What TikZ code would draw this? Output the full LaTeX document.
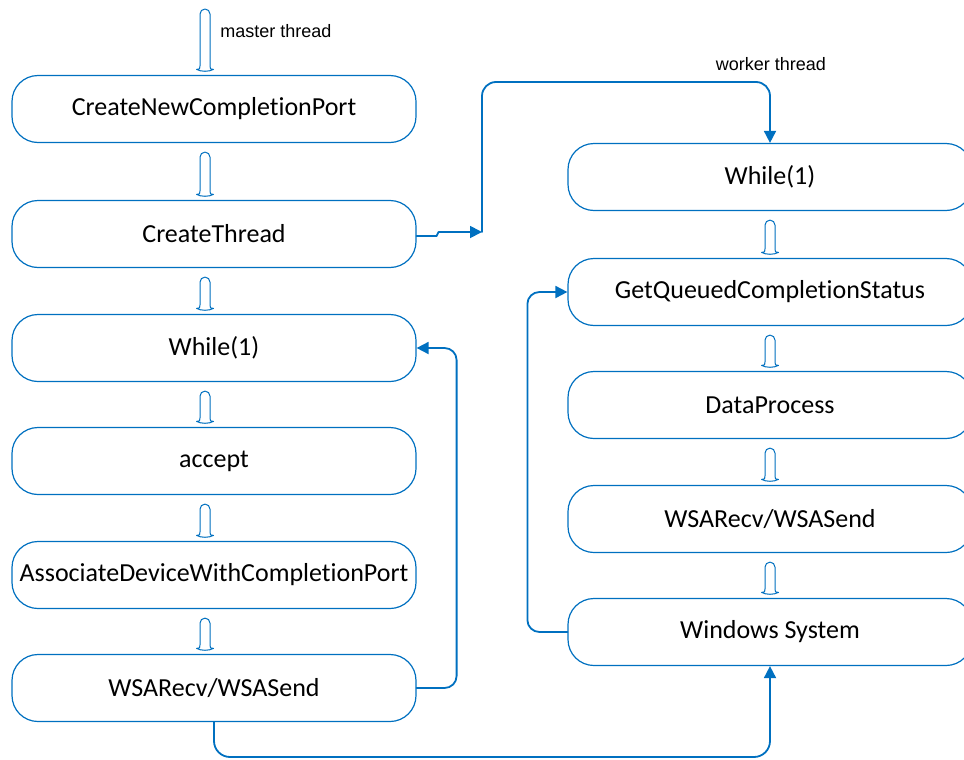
\documentclass[tikz,border=0pt]{standalone}
\usepackage{fontspec}
\setmainfont{Carlito}[Ligatures=NoCommon]
\newfontfamily\labelfont{Liberation Sans}
\usetikzlibrary{calc,arrows.meta}
\definecolor{flowblue}{RGB}{0,112,192}
\tikzset{
  box/.style={draw=flowblue,line width=0.6pt,rounded corners=13pt,minimum width=202pt,minimum height=33.5pt,inner sep=0pt,font=\fontsize{13}{15}\selectfont},
  conn/.style={draw=flowblue,line width=0.9pt,rounded corners=6pt,-{Triangle[length=6pt,width=6pt]}},
  hollow/.style={draw=flowblue,line width=0.5pt,fill=white},
  lbl/.style={font=\labelfont\fontsize{9}{11}\selectfont,inner sep=0pt}
}
% hollow flow arrow between two points
\newcommand\harrow[2]{%
  \path (#1) coordinate (ht) (#2) coordinate (hb);
  \draw[hollow] ($(ht)+(-5,-14)$) arc[start angle=180,end angle=0,radius=2.5pt]
    -- ($(hb)+(5,9)$) .. controls ($(hb)+(5,6)$) .. ($(hb)+(8.5,5.5)$)
    .. controls ($(hb)+(4,3)$) and ($(hb)+(-4,3)$) .. ($(hb)+(-8.5,5.5)$)
    .. controls ($(hb)+(-5,6)$) .. ($(hb)+(-5,9)$) -- cycle;
}
\begin{document}
\begin{tikzpicture}[x=0.5pt,y=0.5pt,line join=round,line cap=round]
  \useasboundingbox (0,0) rectangle (964,-760);
  \clip (0,0) rectangle (964,-760);

  \coordinate (lx) at (205,0);
  \coordinate (rx) at (770,0);
  \coordinate (mt) at (205,0);
  \coordinate (wj) at (482,-232);
  \coordinate (wt) at (482,-82);
  \coordinate (bl) at (0,-757);

  % master thread
  \node[box] (cncp) at (214,-109) {CreateNewCompletionPort};
  \node[box] (ct) at (214,-234) {CreateThread};
  \node[box] (lw) at (214,-348) {While(1)};
  \node[box] (acc) at (214,-461) {accept};
  \node[box] (adw) at (214,-575) {AssociateDeviceWithCompletionPort};
  \node[box] (ws) at (214,-688) {WSARecv/WSASend};

  % worker thread
  \node[box] (rw) at (770,-177) {While(1)};
  \node[box] (gq) at (770,-292) {GetQueuedCompletionStatus};
  \node[box] (dp) at (770,-405) {DataProcess};
  \node[box] (rs) at (770,-519) {WSARecv/WSASend};
  \node[box] (wsys) at (770,-632) {Windows System};

  \node[lbl,anchor=west] (mlab) at (220,-31) {master thread};
  \node[lbl] (wlab) at (771,-64) {worker thread};

  \harrow{mt}{cncp.north -| lx}
  \foreach \a/\b in {cncp/ct,ct/lw,lw/acc,acc/adw,adw/ws}
    \harrow{\a.south -| lx}{\b.north -| lx};
  \foreach \a/\b in {rw/gq,gq/dp,dp/rs,rs/wsys}
    \harrow{\a.south -| rx}{\b.north -| rx};

  \draw[conn,sharp corners] ($(ct.east)+(0,-2)$) -- ++(20,0) -- ++(2,4) -- (wj);
  \draw[conn,rounded corners=7pt] (wj) -- (wt) -| (rw.north);
  \draw[conn] (ws.east) -- ++(40,0) |- (lw.east);
  \draw[conn,rounded corners=8pt] (ws.south) -- (ws.south |- bl) -| (wsys.south);
  \draw[conn] (wsys.west) -- ++(-40,0) |- (gq.west);
\end{tikzpicture}
\end{document}
